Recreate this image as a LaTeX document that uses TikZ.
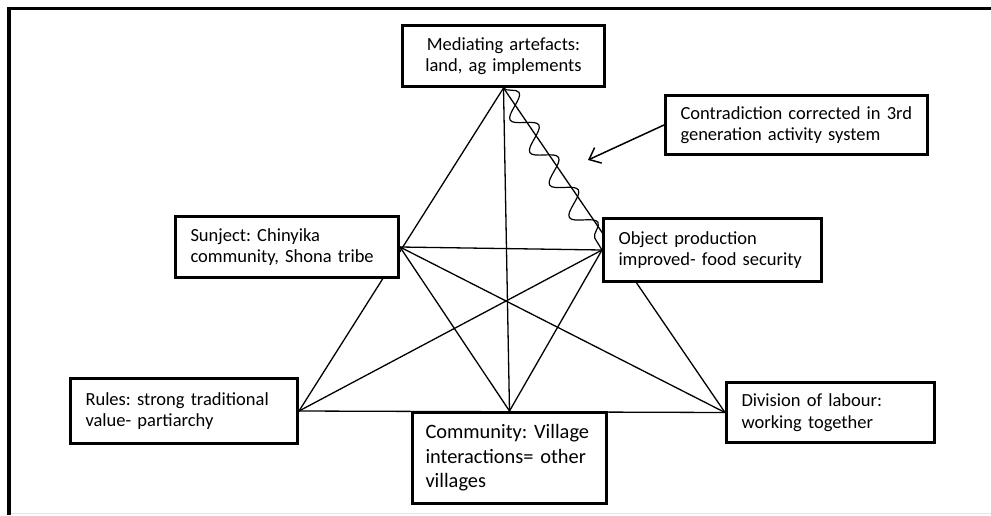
\documentclass[tikz,border=0pt]{standalone}
\usepackage{fontspec}
\setmainfont{Carlito}
\usetikzlibrary{arrows.meta,decorations.pathmorphing,backgrounds}

\begin{document}
\begin{tikzpicture}[x=1pt,y=-1pt,
  box/.style={draw, line width=3pt, fill=white, anchor=north west,
    inner xsep=15pt, inner ysep=0pt, align=left,
    font=\fontsize{18.5}{21.5}\selectfont\frenchspacing},
  link/.style={line width=1.3pt, line cap=round},
]
\useasboundingbox (0,0) rectangle (991,515);

% outer frame: top and left rules, faint bottom edge
\draw[line width=3.5pt] (7,8.5) -- (991,8.5);
\draw[line width=3.5pt] (9,7) -- (9,515);
\draw[black!10, line width=1pt] (11,513.5) -- (991,513.5);

% the seven boxes of the activity system
\node[box, align=center, text width=172pt, minimum height=61pt] (med) at (401,24)
  {Mediating artefacts:\\land, ag implements};
\node[box, text width=232pt, minimum height=59pt] (con) at (664,94)
  {Contradiction corrected in 3rd\\generation activity system};
\node[box, text width=188pt, minimum height=63pt] (obj) at (602,217)
  {Object production\\improved- food security};
\node[box, text width=193pt, minimum height=61pt] (sub) at (174,215)
  {Sunject: Chinyika\\community, Shona tribe};
\node[box, text width=197pt, minimum height=65pt] (rul) at (69,377)
  {Rules: strong traditional\\value- partiarchy};
\node[box, text width=168pt, inner xsep=13pt, minimum height=91pt,
  font=\fontsize{20.4}{24.5}\selectfont\frenchspacing] (com) at (411,411)
  {Community: Village\\interactions= other\\villages};
\node[box, text width=178pt, minimum height=60pt] (div) at (725,381)
  {Division of labour:\\working together};

% connectors forming the triangles, behind the boxes
\begin{scope}[on background layer]
  \draw[link] (med.south) -- (rul.east);
  \draw[link] (med.south) -- (com.north);
  \draw[link] (med.south) -- (div.west);
  \draw[link] (sub.east) -- (obj.west);
  \draw[link] (sub.east) -- (com.north);
  \draw[link] (sub.east) -- (div.west);
  \draw[link] (obj.west) -- (rul.east);
  \draw[link] (obj.west) -- (com.north);
  \draw[link] (rul.east) -- (div.west);
  % the contradiction, shown as a wavy line
  \draw[line width=1.2pt, decorate,
    decoration={snake, segment length=38pt, amplitude=11pt}]
    (med.south) -- (obj.west);
\end{scope}

% pointer from the note to the contradiction
\coordinate (tip) at (588,160);
\draw[line width=1.5pt, -{Straight Barb[length=10pt,width=17pt]}] (con.west) -- (tip);
\end{tikzpicture}
\end{document}
